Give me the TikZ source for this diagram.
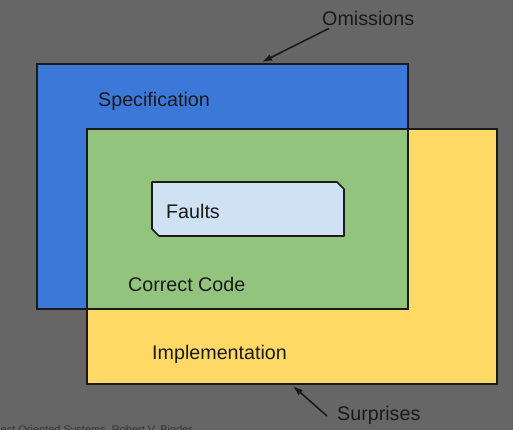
\documentclass[tikz,border=0pt]{standalone}
\usepackage{fontspec}
\setmainfont{Liberation Sans}
\usetikzlibrary{arrows.meta}
\definecolor{bg}{HTML}{666666}
\definecolor{specblue}{HTML}{3C78D8}
\definecolor{implyellow}{HTML}{FFD966}
\definecolor{codegreen}{HTML}{93C47D}
\definecolor{faultblue}{HTML}{CFE2F3}
\definecolor{ink}{HTML}{1A1A1A}
\tikzset{
  border/.style={draw=ink, line width=1.6pt},
  lbl/.style={font=\fontsize{19.7}{22}\selectfont, text=ink, inner sep=0pt, anchor=west},
  pointer/.style={draw=ink, line width=1.6pt, -{Latex[length=10pt,width=7pt]}},
}
\begin{document}
\begin{tikzpicture}[x=1pt,y=-1pt]
\useasboundingbox (0,0) rectangle (513,430);
\fill[bg] (0,0) rectangle (513,430);
% fills
\fill[specblue] (37,64) rectangle (408,309);
\fill[implyellow] (87,129) rectangle (497,384);
\fill[codegreen] (87,129) rectangle (408,309);
% borders
\node[border, minimum width=371pt, minimum height=245pt, inner sep=0pt] (spec) at (222.5,186.5) {};
\node[border, minimum width=410pt, minimum height=255pt, inner sep=0pt] (impl) at (292,256.5) {};
% faults box with cut corners
\draw[border, fill=faultblue, line join=round] (152,182) -- (337,182) -- (344,189) -- (344,236) -- (159,236) -- (152,229) -- cycle;
\node[lbl] (faults) at (166,211) {Faults};
% labels
\node[lbl] (speclbl) at (98,101) {Specification};
\node[lbl] (codelbl) at (128,284) {Correct Code};
\node[lbl] (impllbl) at (152,354) {Implementation};
\node[lbl] (om) at (322,18) {Omissions};
\node[lbl] (sur) at (337,415) {Surprises};
% arrows
\coordinate (omtip) at (262,62);
\coordinate (surtip) at (293,386);
\draw[pointer] ([xshift=7pt,yshift=-3pt]om.south west) -- (omtip);
\draw[pointer] ([xshift=-10pt,yshift=-1pt]sur.west) -- (surtip);
% footer
\node[font=\fontsize{11}{13}\selectfont, text=ink!70!bg, inner sep=0pt, anchor=north west] (foot) at (-2,425) {ject Oriented Systems, Robert V. Binder};
\end{tikzpicture}
\end{document}
